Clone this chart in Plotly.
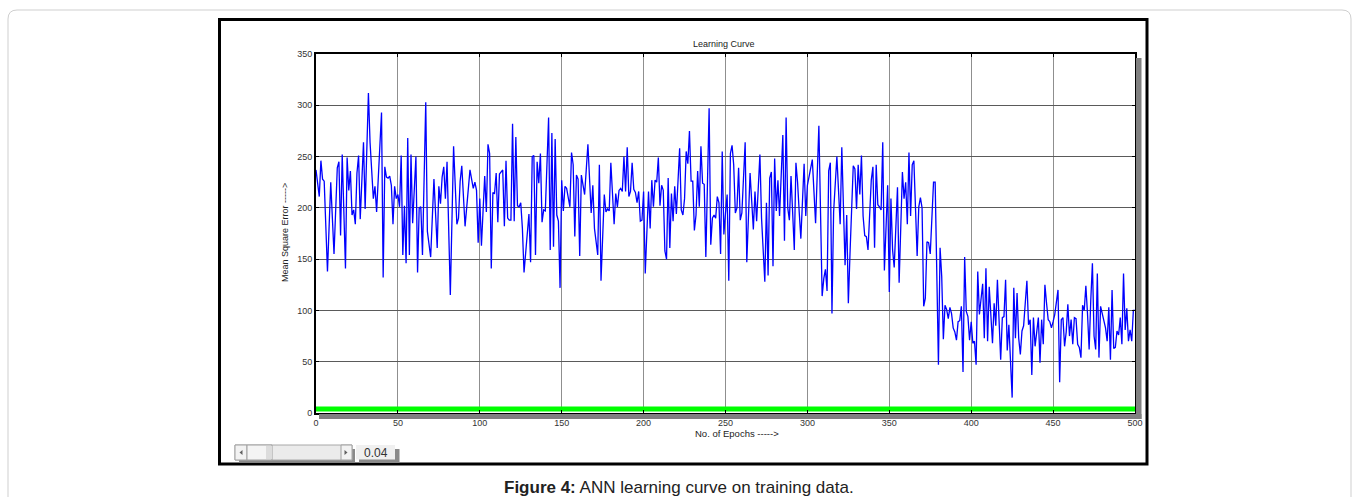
import plotly.graph_objects as go

# ---------------- data ----------------
epochs_a = [0,2,3,4,5,7,9,11,13,14,15,16,18,19,20,21,22,23,24,25,26,27,29,30,32,33,35,36,37,40,41,42,43,44,45,46,47,48,49,50,
            51,52,53,54,55,56,57,58,59,61,62,63,64,65,67,68,70,72,74,75,76,77,78,79,80,82,84,86,87,88,89,91,94,95,96,97,98,99,100,
            101,103,104,105,106,107,108,109,110,111,112,113,114,115,116,117,118,119,120,121,122,123,124,125,126]
mse_a = [237,211,246,228,226,138,225,155,239,245,173,252,141,249,217,236,193,198,184,234,251,189,264,199,312,264,209,221,196,293,132,240,230,229,231,222,184,221,209,213,
         201,251,154,202,146,268,154,252,185,250,137,200,201,154,303,177,152,228,161,221,204,230,240,209,245,115,260,184,190,226,241,182,237,229,219,225,217,166,209,
         163,231,196,262,253,141,215,214,234,186,233,235,237,182,246,190,188,188,282,187,269,202,201,205,180]

epochs_b = [127,129,130,131,132,133,134,135,136,137,138,139,140,142,143,144,145,146,147,148,149,150,151,152,153,155,156,157,158,159,160,161,162,164,165,166,168,169,170,172,
            173,174,176,177,178,179,180,181,182,183,184,185,186,187,188,189,190,191,192,193,194,195,196,197,198,199,200,201,202,203,204,205,206,207,208,209,210,211,212,213,
            214,215,216,217,218,219,220,222,223,224,225,226,227,228,229,230,231,232,233,234,235,236,237,238,240,241,242,243,244,245,246,247,248,249,250,251,252]
mse_b = [137,172,194,147,250,251,154,245,224,253,186,198,197,288,159,273,162,267,193,187,122,227,197,221,219,201,254,242,172,232,228,153,232,213,233,262,195,222,180,154,
         242,129,213,196,199,197,244,209,184,214,201,217,219,216,250,216,259,211,216,244,218,215,205,216,187,188,216,136,184,216,180,227,201,227,225,249,202,222,217,158,
         150,229,161,214,187,221,194,258,198,193,209,255,243,275,226,226,178,193,236,201,260,224,223,152,297,164,190,193,190,211,205,155,255,174,195,213,129]

epochs_c = [253,254,255,256,257,258,259,260,262,263,265,267,268,269,271,272,274,275,276,277,278,279,280,281,282,283,284,285,286,287,288,289,290,292,293,294,295,296,298,299,
            300,302,303,305,307,309,310,311,312,313,314,315,316,318,319,320,321,323,324,325,326,328,329,330,331,332,333,334,335,336,337,339,340,341,342,343,344,345,346,347,
            349,350,351,352,353,355,356,358,359,360,361,362,363,364,365,366,367,368,369,370,371,372,373,374,375,377]
mse_c = [253,261,242,195,200,239,188,195,264,147,234,179,216,187,252,190,128,205,134,229,235,143,248,197,227,192,225,271,168,288,200,188,231,159,244,225,196,170,243,192,
         222,237,247,185,280,114,131,140,119,236,244,97,196,250,216,184,259,144,193,107,155,241,238,199,242,213,251,192,173,172,159,227,240,161,242,203,201,198,264,139,
         222,118,209,159,142,220,127,235,209,225,184,254,192,242,246,208,153,201,210,200,104,112,167,166,155,225]

epochs_d = [378,380,381,382,383,384,385,386,387,388,389,390,391,392,393,394,395,396,397,398,399,400,401,402,403,404,405,407,408,409,410,411,412,413,414,415,416,418,419,420,
            421,422,423,425,426,427,428,429,430,431,432,434,435,436,437,438,439,441,442,443,444,445,446,447,448,449,450,451,453,454,455,456,457,458,459,460,461,462,463,464,
            465,466,467,468,469,470,471,472,473,474,475,476,477,478,479,480,481,482,483,484,485,486,487,488,489,490,491,492,493,494,495,496,497,498,499,500]
mse_d = [225,47,161,133,72,105,101,92,103,97,83,79,71,89,90,104,40,152,99,94,71,89,68,70,47,138,96,126,73,141,70,123,88,68,107,85,130,52,93,94,
         130,61,86,15,122,73,117,73,57,80,85,129,86,91,37,93,65,93,49,91,67,125,107,91,89,83,89,96,120,30,91,93,65,79,106,75,91,67,93,92,
         67,64,54,105,100,124,97,62,110,146,75,62,136,54,104,97,88,83,70,103,52,120,63,64,80,76,93,67,136,81,102,70,81,70,100,100]

goal_epochs = [0, 500]
goal_mse = [4, 4]

x_ticks = [0, 50, 100, 150, 200, 250, 300, 350, 400, 450, 500]
y_ticks = [0, 50, 100, 150, 200, 250, 300, 350]

epochs = epochs_a + epochs_b + epochs_c + epochs_d
mse = mse_a + mse_b + mse_c + mse_d

# ---------------- layout geometry (pixels) ----------------
W, H = 1359, 497
L, R, T, B = 316, 1135, 54, 413


def px(x):
    return (x - L) / (R - L)


def py(y):
    return (B - y) / (B - T)


FONT = "Liberation Sans, Arial, Helvetica, sans-serif"

fig = go.Figure()
fig.add_trace(go.Scatter(x=goal_epochs, y=goal_mse, mode="lines",
                         line=dict(color="#00ff00", width=5), hoverinfo="skip", showlegend=False))
fig.add_trace(go.Scatter(x=epochs, y=mse, mode="lines",
                         line=dict(color="#0000ff", width=1.3), showlegend=False))

shapes = []


def rect(x0, y0, x1, y1, fill=None, line=None, lw=1):
    shapes.append(dict(type="rect", xref="paper", yref="paper",
                       x0=px(x0), x1=px(x1), y0=py(y1), y1=py(y0),
                       fillcolor=fill if fill else "rgba(0,0,0,0)",
                       line=dict(color=line if line else "rgba(0,0,0,0)", width=lw if line else 0)))


# outer rounded page frame
r = 9
x0, y0, x1, y1 = 8, 10, 1351, 530
path = (f"M {px(x0)},{py(y1)} L {px(x0)},{py(y0 + r)} Q {px(x0)},{py(y0)} {px(x0 + r)},{py(y0)} "
        f"L {px(x1 - r)},{py(y0)} Q {px(x1)},{py(y0)} {px(x1)},{py(y0 + r)} L {px(x1)},{py(y1)}")
shapes.append(dict(type="path", xref="paper", yref="paper", path=path,
                   line=dict(color="#cfcfcf", width=1)))

# black image border
rect(219.5, 19.5, 1147, 464, line="#000000", lw=3)

# grey shadows of the axes box
rect(1136, 58, 1141.5, 419, fill="#808080")
rect(319, 414, 1141.5, 419, fill="#808080")

# slider widget
rect(239, 449, 355, 462.5, fill="#8a8a8a")
rect(235, 445, 352, 460, fill="#ebebeb", line="#a8a8a8")
rect(235, 445, 247, 460, fill="#f2f2f2", line="#a0a0a0")
rect(247, 445, 272, 460, fill="#f4f4f4", line="#a0a0a0")
rect(266, 446, 272, 459, fill="#dcdcdc")
rect(341, 445, 352, 460, fill="#f2f2f2", line="#a0a0a0")
shapes.append(dict(type="path", xref="paper", yref="paper",
                   path=f"M {px(239.5)},{py(452.5)} L {px(242.5)},{py(450)} L {px(242.5)},{py(455)} Z",
                   fillcolor="#606060", line=dict(width=0)))
shapes.append(dict(type="path", xref="paper", yref="paper",
                   path=f"M {px(347.5)},{py(452.5)} L {px(344.5)},{py(450)} L {px(344.5)},{py(455)} Z",
                   fillcolor="#606060", line=dict(width=0)))
# value box
rect(359, 449, 399.5, 463, fill="#8a8a8a")
rect(356, 445, 395, 459.5, fill="#f0f0f0")


def label(text, x, y, size, color="#222", angle=0):
    return dict(text=text, x=px(x), y=py(y), xref="paper", yref="paper",
                xanchor="center", yanchor="middle", showarrow=False, textangle=angle,
                font=dict(family=FONT, size=size, color=color))


annotations = [
    label("Learning Curve", 724, 44, 9),
    label("No. of Epochs ----->", 737, 433, 9.5),
    label("Mean Square Error ----->", 285, 233, 9, angle=-90),
    label("0.04", 376, 452.5, 12, color="#333"),
    label("<b>Figure 4:</b> ANN learning curve on training data.", 679, 487, 17),
]

axis_common = dict(showline=True, linecolor="#000000", linewidth=2, mirror="ticks",
                   ticks="inside", ticklen=3, tickcolor="#000000", zeroline=False,
                   tickfont=dict(family=FONT, size=9, color="#333"), showgrid=True, gridwidth=1)

fig.update_layout(
    width=W, height=H,
    margin=dict(l=L, r=W - R, t=T, b=H - B, pad=0),
    paper_bgcolor="#ffffff", plot_bgcolor="#ffffff",
    xaxis=dict(range=[0, 500], tickvals=x_ticks, ticktext=[str(v) for v in x_ticks],
               gridcolor="#8f8f8f", **axis_common),
    yaxis=dict(range=[0, 350], tickvals=y_ticks, ticktext=[str(v) for v in y_ticks],
               gridcolor="#5a5a5a", **axis_common),
    shapes=shapes, annotations=annotations, showlegend=False,
)

fig.write_html("out.html", config={"displayModeBar": False},
               post_script="document.body.style.margin='0';document.body.style.overflow='hidden';")
